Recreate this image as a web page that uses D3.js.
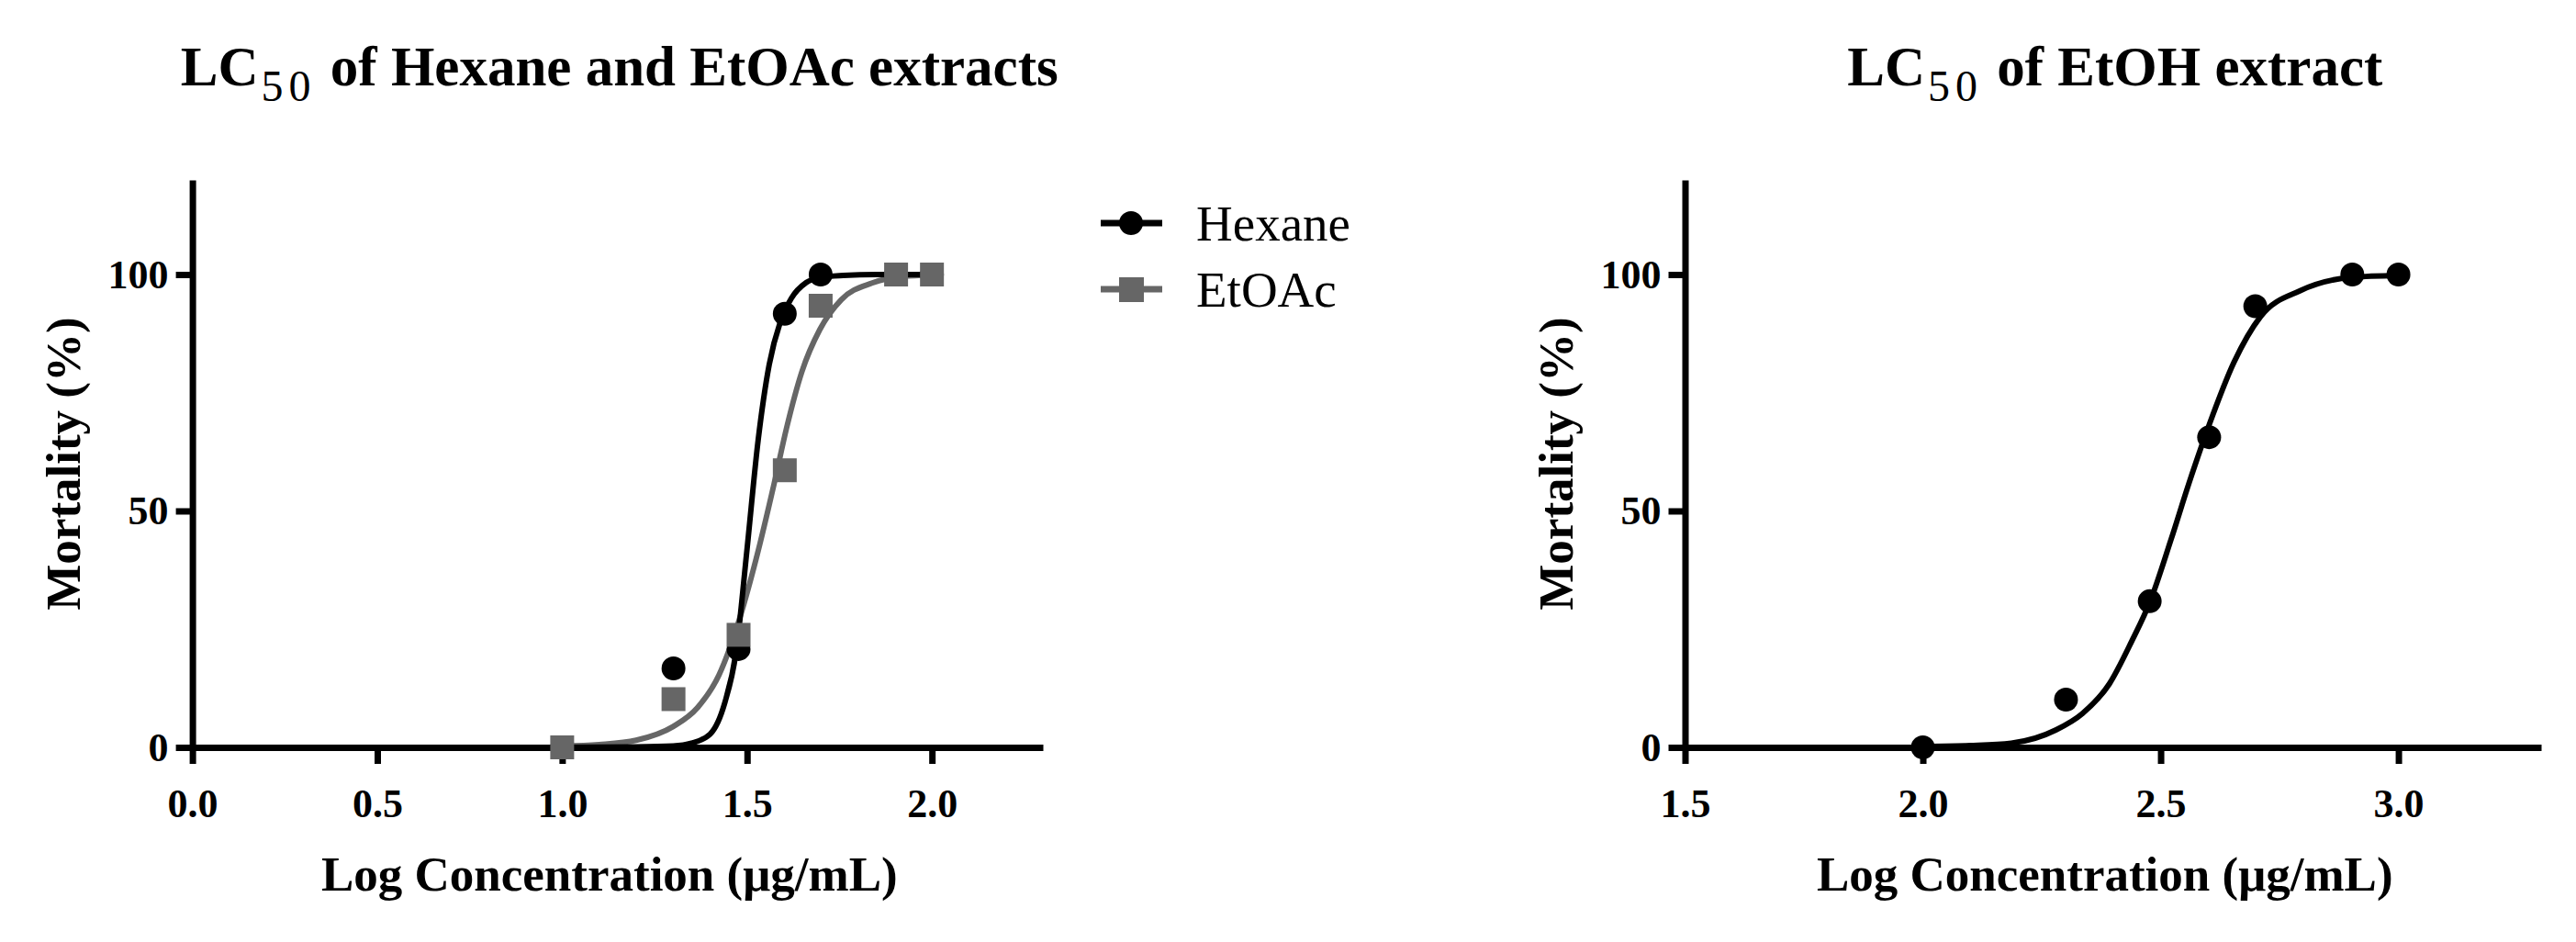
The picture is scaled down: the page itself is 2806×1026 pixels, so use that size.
<!DOCTYPE html>
<html>
<head>
<meta charset="utf-8">
<script src="https://cdn.jsdelivr.net/npm/d3@7"></script>
<style>
  body { margin: 0; background: #fff; }
  svg { display: block; }
  .axis path, .axis line { stroke: #000; stroke-width: 7; }
  .axis text { font-family: "Liberation Serif", serif; font-weight: bold; font-size: 44px; fill: #000; }
  .title { font-family: "Liberation Serif", serif; font-weight: bold; font-size: 61px; }
  .sub { font-weight: normal; font-size: 48px; letter-spacing: 6px; }
  .label { font-family: "Liberation Serif", serif; font-weight: bold; font-size: 53px; }
  .legend { font-family: "Liberation Serif", serif; font-size: 55px; }
</style>
</head>
<body>
<svg id="chart" width="2806" height="1026"></svg>
<script>
// ---------- data (log concentration, % mortality)

const LOG_CONC_LEFT = [1.0, 1.301, 1.477, 1.602, 1.699, 1.903, 2.0];
const HEXANE = [0, 16.7, 20.8, 91.7, 100, 100, 100];
const ETOAC = [0, 10.2, 23.8, 58.6, 93.4, 100, 100];

const LOG_CONC_RIGHT = [2.0, 2.301, 2.477, 2.602, 2.699, 2.903, 3.0];
const ETOH = [0, 10.1, 30.9, 65.6, 93.3, 100, 100];

// fitted curves
const HEXANE_FIT_X = [1.0, 1.2, 1.3, 1.35, 1.4, 1.44, 1.47, 1.5, 1.53, 1.56, 1.59, 1.62, 1.66, 1.7, 1.76, 1.85, 2.0];
const HEXANE_FIT_Y = [0, 0.1, 0.3, 0.9, 2.8, 9.5, 20, 42, 65, 81, 90, 95, 98.3, 99.4, 99.8, 100, 100];
const ETOAC_FIT_X = [1.0, 1.1, 1.2, 1.3, 1.366, 1.424, 1.474, 1.524, 1.573, 1.607, 1.648, 1.697, 1.755, 1.838, 1.921, 2.0];
const ETOAC_FIT_Y = [0.3, 0.6, 1.5, 4.4, 8.4, 15.3, 25.8, 39.7, 55.7, 67.6, 79.4, 88.4, 94.7, 98.2, 99.6, 99.9];
const ETOH_FIT_X = [2.0, 2.1, 2.186, 2.28, 2.336, 2.392, 2.439, 2.478, 2.522, 2.56, 2.602, 2.654, 2.71, 2.794, 2.902, 3.0];
const ETOH_FIT_Y = [0.2, 0.4, 0.9, 3.7, 7.2, 13.4, 22.4, 30.9, 44, 56, 68.2, 81.4, 91.1, 96.6, 99.4, 99.8];

const X_TICKS_LEFT = [0, 0.5, 1.0, 1.5, 2.0];
const X_TICKS_RIGHT = [1.5, 2.0, 2.5, 3.0];
const Y_TICKS = [0, 50, 100];

const BLACK = "#000";
const GREY = "#666";

// ----------

const svg = d3.select("#chart");

function zip(xs, ys) {
  return xs.map(function (x, i) { return [x, ys[i]]; });
}

function drawPanel(opts) {
  const x = d3.scaleLinear().domain(opts.xDomain).range(opts.xRange);
  const y = d3.scaleLinear().domain([0, 120]).range([814, 196]);
  const g = svg.append("g");

  g.append("g")
    .attr("class", "axis")
    .attr("transform", "translate(0,814)")
    .call(d3.axisBottom(x).tickValues(opts.xTicks).tickFormat(d3.format(".1f"))
      .tickSize(18).tickSizeOuter(0).tickPadding(27));

  g.append("g")
    .attr("class", "axis")
    .attr("transform", "translate(" + opts.xRange[0] + ",0)")
    .call(d3.axisLeft(y).tickValues(Y_TICKS).tickSize(18).tickSizeOuter(0).tickPadding(8));

  const line = d3.line()
    .x(function (d) { return x(d[0]); })
    .y(function (d) { return y(d[1]); })
    .curve(d3.curveMonotoneX);

  opts.fits.forEach(function (f) {
    g.append("path")
      .datum(zip(f.xs, f.ys))
      .attr("d", line)
      .attr("fill", "none")
      .attr("stroke", f.color)
      .attr("stroke-width", 6);
  });

  opts.points.forEach(function (p) {
    const pts = zip(p.xs, p.ys);
    if (p.shape === "circle") {
      g.selectAll(null).data(pts).enter().append("circle")
        .attr("cx", function (d) { return x(d[0]); })
        .attr("cy", function (d) { return y(d[1]); })
        .attr("r", 13)
        .attr("fill", p.color);
    } else {
      g.selectAll(null).data(pts).enter().append("rect")
        .attr("x", function (d) { return x(d[0]) - 13; })
        .attr("y", function (d) { return y(d[1]) - 13; })
        .attr("width", 26)
        .attr("height", 26)
        .attr("fill", p.color);
    }
  });

  const cx = (opts.xRange[0] + opts.xRange[1]) / 2;

  const title = g.append("text")
    .attr("class", "title")
    .attr("x", cx + 2)
    .attr("y", 93)
    .attr("text-anchor", "middle");
  title.append("tspan").text("LC");
  title.append("tspan").attr("class", "sub").attr("dx", 3).attr("dy", 17).text("50");
  title.append("tspan").attr("dy", -17).text(" " + opts.titleRest);

  g.append("text")
    .attr("class", "label")
    .attr("x", cx - 9)
    .attr("y", 970)
    .attr("text-anchor", "middle")
    .text("Log Concentration (μg/mL)");

  g.append("text")
    .attr("class", "label")
    .attr("transform", "translate(" + (opts.xRange[0] - 123) + "," + y(60) + ") rotate(-90)")
    .attr("text-anchor", "middle")
    .text("Mortality (%)");
}

drawPanel({
  xDomain: [0, 2.3],
  xRange: [209.6, 1136],
  xTicks: X_TICKS_LEFT,
  titleRest: "of Hexane and EtOAc extracts",
  fits: [
    { xs: ETOAC_FIT_X, ys: ETOAC_FIT_Y, color: GREY },
    { xs: HEXANE_FIT_X, ys: HEXANE_FIT_Y, color: BLACK }
  ],
  points: [
    { xs: LOG_CONC_LEFT, ys: HEXANE, color: BLACK, shape: "circle" },
    { xs: LOG_CONC_LEFT, ys: ETOAC, color: GREY, shape: "square" }
  ]
});

drawPanel({
  xDomain: [1.5, 3.3],
  xRange: [1835.5, 2768],
  xTicks: X_TICKS_RIGHT,
  titleRest: "of EtOH extract",
  fits: [
    { xs: ETOH_FIT_X, ys: ETOH_FIT_Y, color: BLACK }
  ],
  points: [
    { xs: LOG_CONC_RIGHT, ys: ETOH, color: BLACK, shape: "circle" }
  ]
});

// ---------- legend

const legendItems = [
  { name: "Hexane", color: BLACK, shape: "circle" },
  { name: "EtOAc", color: GREY, shape: "square" }
];

const legend = svg.append("g").attr("transform", "translate(1199,243)");
legendItems.forEach(function (d, i) {
  const row = legend.append("g").attr("transform", "translate(0," + i * 72 + ")");
  row.append("line")
    .attr("x1", 0).attr("x2", 67)
    .attr("stroke", d.color).attr("stroke-width", 7);
  if (d.shape === "circle") {
    row.append("circle").attr("cx", 33).attr("r", 13).attr("fill", d.color);
  } else {
    row.append("rect").attr("x", 20).attr("y", -13).attr("width", 27).attr("height", 27).attr("fill", d.color);
  }
  row.append("text")
    .attr("class", "legend")
    .attr("x", 104)
    .attr("y", 19)
    .text(d.name);
});
</script>
</body>
</html>
